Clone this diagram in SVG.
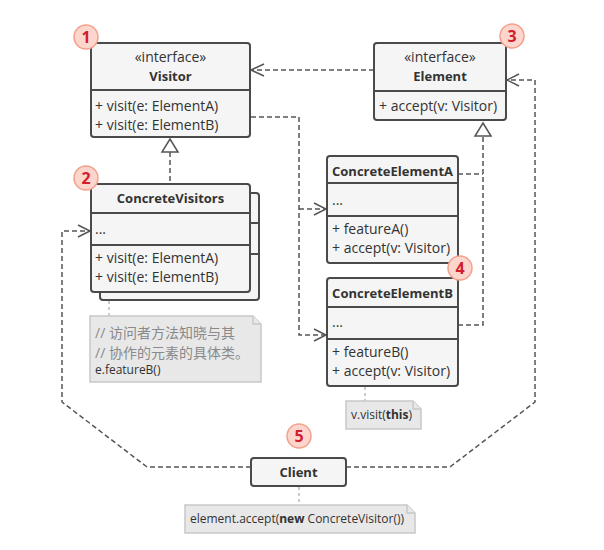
<svg xmlns="http://www.w3.org/2000/svg" width="604" height="550" viewBox="0 0 604 550">
<defs>
<style>
.box{fill:#f5f5f5;stroke:#4a4a4a;stroke-width:2}
.ln{stroke:#4a4a4a;stroke-width:2}
.t{font-family:"Open Sans","Liberation Sans",sans-serif;font-size:14px;fill:#333}
.b{font-weight:bold;font-size:13px}
.c{text-anchor:middle}
.con{fill:none;stroke:#555;stroke-width:1.5;stroke-dasharray:5,3}
.head{fill:none;stroke:#555;stroke-width:1.5}
.tri{fill:#fff;stroke:#555;stroke-width:1.5}
.note{fill:#e8e8e8;stroke:#c8c8c8;stroke-width:1.5}
.nl{fill:none;stroke:#bbb;stroke-width:1.5;stroke-dasharray:3,3}
.badge circle{fill:#fcd6cc;stroke:#f4a08c;stroke-width:1.5}
.badge text{font-family:"Open Sans","Liberation Sans",sans-serif;font-size:16px;font-weight:bold;fill:#d0202e;text-anchor:middle}
.gray{fill:#8a8a8a}
.code{font-size:12px}
</style>
</defs>
<rect width="604" height="550" fill="#fff"/>

<g id="connectors">
  <path class="con" d="M374,70 H251"/>
  <path class="head" d="M264,64 L251,70 L264,76"/>
  <path class="con" d="M251,117 H299 V335 H326"/>
  <path class="con" d="M299,209 H326"/>
  <path class="head" d="M314,203 L326,209 L314,215"/>
  <path class="head" d="M314,329 L326,335 L314,341"/>
  <path class="con" d="M170,152 V184"/>
  <path class="tri" d="M170,139 L178,152 L162,152 Z"/>
  <path class="con" d="M458,174 H483 M458,325 H483 V136"/>
  <path class="tri" d="M483,123 L491,136 L475,136 Z"/>
  <path class="con" d="M251,467 H147 L62,402 V231 H90"/>
  <path class="head" d="M78,225 L90,231 L78,237"/>
  <path class="con" d="M346,467 H450 L535,402 V80 H507"/>
  <path class="head" d="M519,74 L507,80 L519,86"/>
  <path class="nl" d="M109,301 V316"/>
  <path class="nl" d="M365,387 V401"/>
  <path class="nl" d="M299,487 V505"/>
</g>

<g id="visitor">
  <rect class="box" x="91" y="43" width="159" height="94" rx="3"/>
  <path class="ln" d="M91,90 H250"/>
  <text class="t c" x="170.5" y="62">«interface»</text>
  <text class="t c b" x="170.5" y="81">Visitor</text>
  <text class="t" x="95" y="111">+ visit(e: ElementA)</text>
  <text class="t" x="95" y="130">+ visit(e: ElementB)</text>
</g>

<g id="element">
  <rect class="box" x="374" y="43" width="132" height="77" rx="3"/>
  <path class="ln" d="M374,91 H506"/>
  <text class="t c" x="440" y="62">«interface»</text>
  <text class="t c b" x="440" y="81">Element</text>
  <text class="t" x="379" y="111">+ accept(v: Visitor)</text>
</g>

<g id="concrete-visitors">
  <rect class="box" x="100" y="193" width="159" height="107" rx="3"/>
  <path class="ln" d="M250,223 H259 M250,254 H259"/>
  <rect class="box" x="91" y="184" width="159" height="108" rx="3"/>
  <path class="ln" d="M91,213 H250 M91,245 H250"/>
  <text class="t c b" x="170.5" y="203">ConcreteVisitors</text>
  <text class="t" x="95" y="234">...</text>
  <text class="t" x="95" y="263">+ visit(e: ElementA)</text>
  <text class="t" x="95" y="282">+ visit(e: ElementB)</text>
</g>

<g id="concrete-element-a">
  <rect class="box" x="327" y="156" width="131" height="107" rx="3"/>
  <path class="ln" d="M327,183 H458 M327,216 H458"/>
  <text class="t c b" x="392.5" y="176">ConcreteElementA</text>
  <text class="t" x="332" y="205">...</text>
  <text class="t" x="332" y="234">+ featureA()</text>
  <text class="t" x="332" y="253">+ accept(v: Visitor)</text>
</g>

<g id="concrete-element-b">
  <rect class="box" x="327" y="278" width="131" height="108" rx="3"/>
  <path class="ln" d="M327,307 H458 M327,339 H458"/>
  <text class="t c b" x="392.5" y="298">ConcreteElementB</text>
  <text class="t" x="332" y="327">...</text>
  <text class="t" x="332" y="357">+ featureB()</text>
  <text class="t" x="332" y="376">+ accept(v: Visitor)</text>
</g>

<g id="client">
  <rect class="box" x="251" y="458" width="95" height="28" rx="3"/>
  <text class="t c b" x="298.5" y="477">Client</text>
</g>

<g id="note-visitors">
  <path class="note" d="M90,316 H253 L261,324 V382 H90 Z"/>
  <path class="note" d="M253,316 V324 H261"/>
  <text class="t gray" x="95" y="338" style="font-family:'Open Sans','Noto Sans CJK SC',sans-serif">// 访问者方法知晓与其</text>
  <text class="t gray" x="95" y="358" style="font-family:'Open Sans','Noto Sans CJK SC',sans-serif">// 协作的元素的具体类。</text>
  <text class="t code" x="95" y="374">e.featureB()</text>
</g>

<g id="note-element">
  <path class="note" d="M346,401 H413 L421,409 V429 H346 Z"/>
  <path class="note" d="M413,401 V409 H421"/>
  <text class="t code" x="351" y="419">v.visit(<tspan class="b" style="font-size:12px">this</tspan>)</text>
</g>

<g id="note-client">
  <path class="note" d="M185,505 H407 L415,513 V533 H185 Z"/>
  <path class="note" d="M407,505 V513 H415"/>
  <text class="t code" x="190" y="523">element.accept(<tspan class="b" style="font-size:12px">new</tspan> ConcreteVisitor())</text>
</g>

<g id="badges">
  <g class="badge" id="badge-1"><circle cx="86" cy="37" r="12"/><text x="86" y="43">1</text></g>
  <g class="badge" id="badge-2"><circle cx="86" cy="178" r="12"/><text x="86" y="184">2</text></g>
  <g class="badge" id="badge-3"><circle cx="512" cy="36" r="12"/><text x="512" y="42">3</text></g>
  <g class="badge" id="badge-4"><circle cx="460" cy="268" r="12"/><text x="460" y="274">4</text></g>
  <g class="badge" id="badge-5"><circle cx="299" cy="436" r="12"/><text x="299" y="442">5</text></g>
</g>
</svg>
